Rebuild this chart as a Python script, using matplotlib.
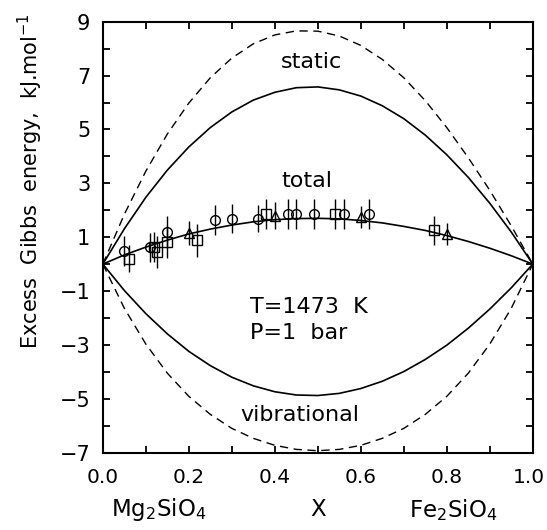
#Excess Gibbs energy of Mg2SiO4-Fe2SiO4 olivine at 1473 K
import matplotlib
matplotlib.use("Agg")
import matplotlib.pyplot as plt
from matplotlib.ticker import MultipleLocator, FixedLocator, NullFormatter

# curves at steps of 0.05 in X
x_curve = [0.0, 0.05, 0.10, 0.15, 0.20, 0.25, 0.30, 0.35, 0.40, 0.45, 0.50,
           0.55, 0.60, 0.65, 0.70, 0.75, 0.80, 0.85, 0.90, 0.95, 1.0]
static_dash = [0.0, 1.85, 3.45, 4.83, 5.98, 6.92, 7.65, 8.18, 8.51, 8.66, 8.65,
               8.47, 8.12, 7.60, 6.92, 6.07, 5.07, 3.95, 2.74, 1.42, 0.0]
static_solid = [0.0, 1.31, 2.48, 3.49, 4.35, 5.07, 5.65, 6.09, 6.38, 6.55, 6.58,
                6.47, 6.24, 5.88, 5.40, 4.79, 4.06, 3.22, 2.26, 1.19, 0.0]
total = [0.0, 0.34, 0.63, 0.89, 1.12, 1.30, 1.45, 1.57, 1.65, 1.69, 1.70,
         1.68, 1.62, 1.53, 1.40, 1.25, 1.06, 0.84, 0.59, 0.31, 0.0]
vib_solid = [0.0, -0.98, -1.84, -2.59, -3.24, -3.77, -4.20, -4.52, -4.74, -4.86, -4.88,
             -4.80, -4.62, -4.35, -3.99, -3.54, -3.01, -2.38, -1.67, -0.88, 0.0]
vib_dash = [0.0, -1.64, -2.97, -4.05, -4.91, -5.58, -6.10, -6.47, -6.73, -6.88, -6.93,
            -6.88, -6.73, -6.47, -6.10, -5.58, -4.91, -4.05, -2.97, -1.64, 0.0]

# measurements (circles, squares, triangles) with error bars
circ_x = [0.05, 0.11, 0.15, 0.26, 0.30, 0.36, 0.43, 0.45, 0.49, 0.56, 0.62]
circ_y = [0.48, 0.62, 1.20, 1.64, 1.69, 1.69, 1.85, 1.85, 1.85, 1.85, 1.85]
circ_err = [0.55, 0.55, 0.6, 0.55, 0.55, 0.5, 0.55, 0.55, 0.55, 0.55, 0.55]
sq_x = [0.06, 0.12, 0.125, 0.15, 0.22, 0.38, 0.54, 0.77]
sq_y = [0.20, 0.64, 0.45, 0.82, 0.88, 1.85, 1.85, 1.25]
sq_err = [0.5, 0.55, 0.6, 0.6, 0.6, 0.55, 0.55, 0.55]
tri_x = [0.20, 0.40, 0.60, 0.80]
tri_y = [1.16, 1.79, 1.75, 1.12]
tri_err = [0.45, 0.5, 0.4, 0.4]

x_ticks = [0.0, 0.2, 0.4, 0.6, 0.8, 1.0]
x_tick_labels = ["0.0", "0.2", "0.4", "0.6", "0.8", "1.0"]
y_ticks = [-7, -5, -3, -1, 1, 3, 5, 7, 9]

fig = plt.figure(figsize=(5.47, 5.30), dpi=100)
ax = fig.add_axes([0.188, 0.146, 0.786, 0.813])

ax.plot(x_curve, static_dash, color="black", lw=1.0, ls=(0, (6, 4)))
ax.plot(x_curve, static_solid, color="black", lw=1.2)
ax.plot(x_curve, total, color="black", lw=1.2)
ax.plot(x_curve, vib_solid, color="black", lw=1.2)
ax.plot(x_curve, vib_dash, color="black", lw=1.0, ls=(0, (6, 4)))

for xs, ys, es, m in [(circ_x, circ_y, circ_err, "o"),
                      (sq_x, sq_y, sq_err, "s"),
                      (tri_x, tri_y, tri_err, "^")]:
	ax.errorbar(xs, ys, yerr=es, fmt=m, mfc="none", mec="black", ms=7,
	            mew=1.0, ecolor="black", elinewidth=1.0, capsize=0)

ax.text(0.486, 7.5, "static", fontsize=16, ha="center", va="center")
ax.text(0.474, 3.1, "total", fontsize=16, ha="center", va="center")
ax.text(0.458, -5.6, "vibrational", fontsize=16, ha="center", va="center")
ax.text(0.342, -1.6, "T=1473  K", fontsize=16, ha="left", va="center")
ax.text(0.342, -2.55, "P=1  bar", fontsize=16, ha="left", va="center")

ax.set_xlim(0, 1)
ax.set_ylim(-7, 9)
ax.xaxis.set_major_locator(FixedLocator(x_ticks))
ax.xaxis.set_minor_locator(MultipleLocator(0.1))
ax.xaxis.set_major_formatter(NullFormatter())
ax.yaxis.set_major_locator(FixedLocator(y_ticks))
ax.yaxis.set_minor_locator(MultipleLocator(1))
ax.yaxis.set_major_formatter(plt.FuncFormatter(lambda v, p: f"{v:.0f}".replace("-", "\u2212")))
ax.tick_params(which="both", direction="in", top=True, right=True,
               length=5, width=1.3, labelsize=15)
ax.tick_params(axis="y", pad=9)
for s in ax.spines.values():
	s.set_linewidth(1.5)

# x tick labels placed by hand so the last one stays inside the figure
for v, lab in zip(x_ticks, x_tick_labels):
	dx = -3 if v == x_ticks[-1] else 0
	ax.annotate(lab, xy=(v, 0), xycoords=("data", "axes fraction"),
	            xytext=(dx, -18), textcoords="offset points",
	            fontsize=14.5, ha="center", va="center")

fig.text(0.291, 0.038, r"Mg$_2$SiO$_4$", fontsize=16.5, ha="center", va="center")
fig.text(0.581, 0.038, "X", fontsize=16.5, ha="center", va="center")
fig.text(0.828, 0.038, r"Fe$_2$SiO$_4$", fontsize=16.5, ha="center", va="center")
fig.text(0.055, 0.657, r"Excess  Gibbs  energy,  kJ.mol$^{-1}$", fontsize=15,
         rotation=90, ha="center", va="center")

fig.savefig("out.png", dpi=100)
